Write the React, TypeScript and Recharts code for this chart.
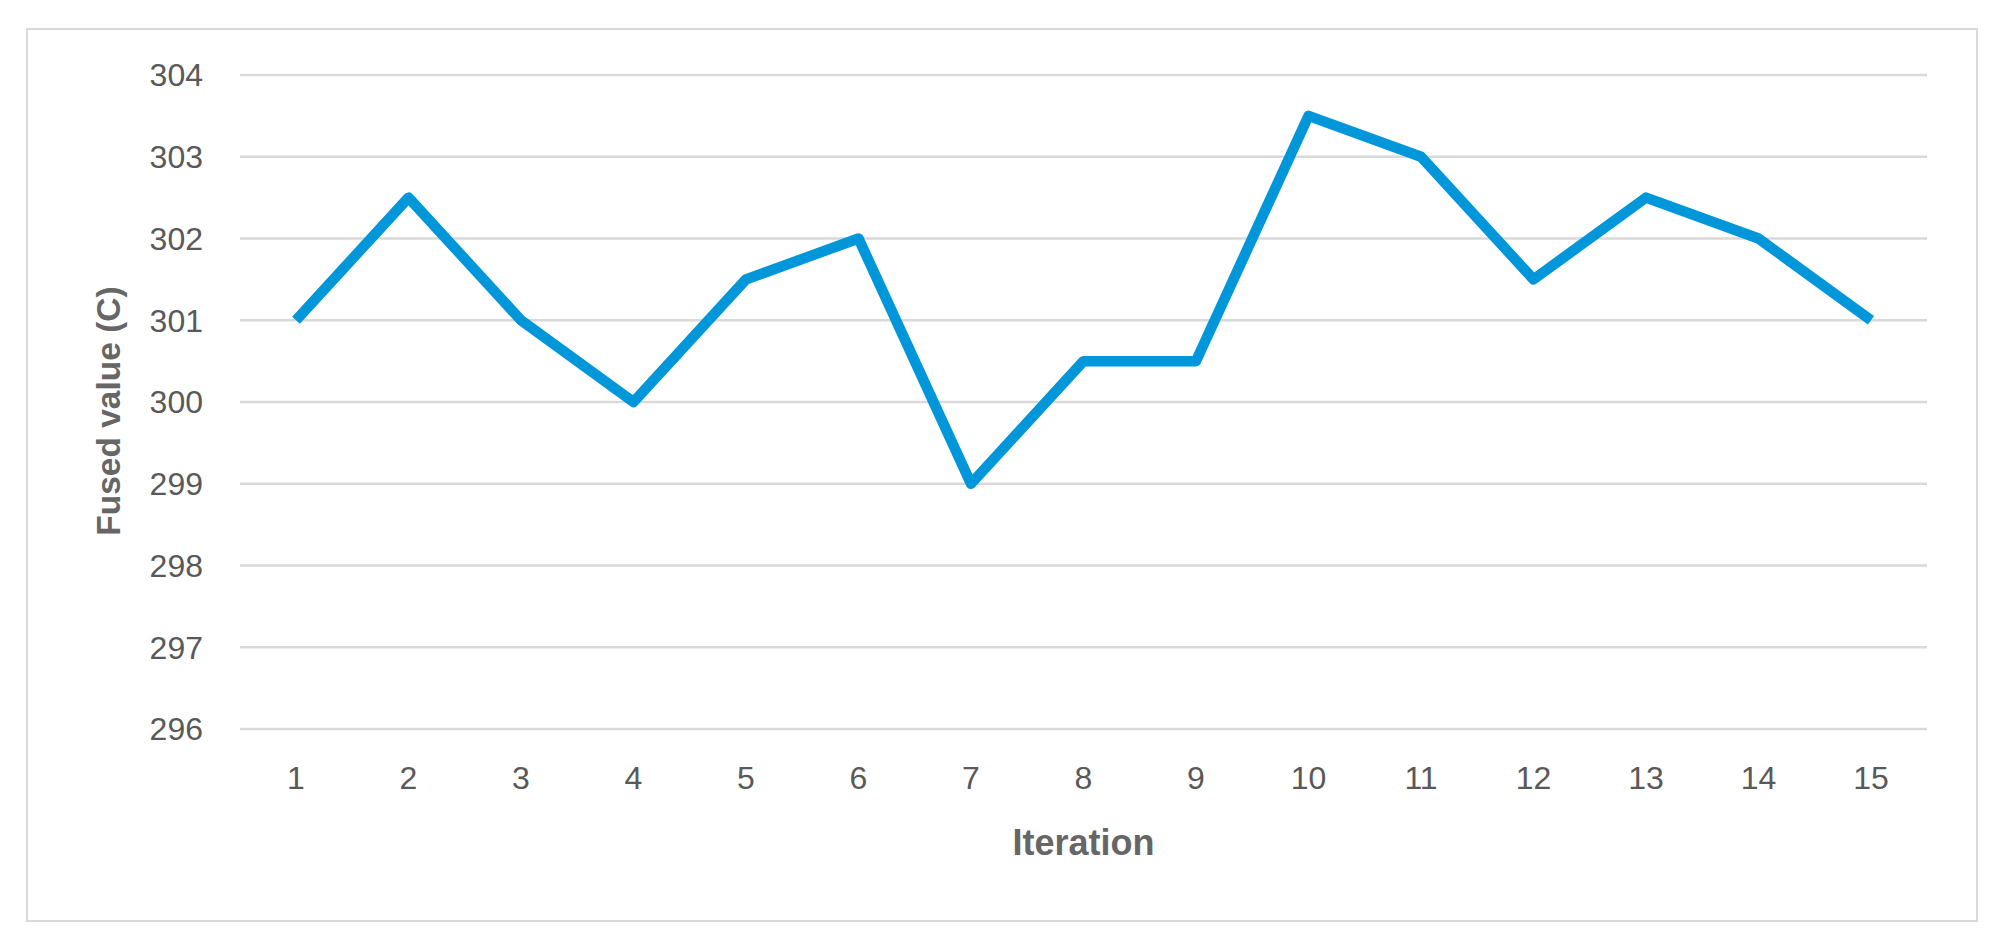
import { LineChart, Line, XAxis, YAxis, CartesianGrid, Label } from "recharts"

const iterations = ["1", "2", "3", "4", "5", "6", "7", "8", "9", "10", "11", "12", "13", "14", "15"]
const fusedValues = [301, 302.5, 301, 300, 301.5, 302, 299, 300.5, 300.5, 303.5, 303, 301.5, 302.5, 302, 301]
const yTicks = [296, 297, 298, 299, 300, 301, 302, 303, 304]

const chartData = iterations.map((it, i) => ({ iteration: it, value: fusedValues[i] }))

const FONT = "'Liberation Sans', Arial, sans-serif"
const TEXT_GRAY = "#595959"
const TITLE_GRAY = "#666666"

function YTitle(props: any) {
  const vb = props.viewBox || { x: 0, y: 0, width: 0, height: 0 }
  const cx = vb.x + 48
  // excel puts the title a little below the plot middle
  const cy = vb.y + vb.height / 2 + 9
  return (
    <text
      x={cx}
      y={cy}
      transform={`rotate(-90, ${cx}, ${cy})`}
      textAnchor="middle"
      dominantBaseline="central"
      fill={TITLE_GRAY}
      fontFamily={FONT}
      fontSize={33.5}
      fontWeight="bold"
    >
      Fused value (C)
    </text>
  )
}

export default function App() {
  return (
    <div style={{ position: "absolute", left: 0, top: 0, width: 2001, height: 944, background: "#fff" }}>
      <div
        style={{
          position: "absolute",
          left: 26,
          top: 28,
          width: 1948,
          height: 890,
          border: "2px solid #d9d9d9",
        }}
      />
      <div style={{ position: "absolute", left: 0, top: 0 }}>
        <LineChart
          width={2001}
          height={944}
          data={chartData}
          margin={{ top: 75, right: 74, bottom: 115, left: 60 }}
        >
          <CartesianGrid vertical={false} stroke="#d9d9d9" strokeWidth={2.5} />
          <XAxis
            dataKey="iteration"
            height={100}
            axisLine={false}
            tickLine={false}
            tickSize={0}
            tickMargin={37}
            interval={0}
            padding={{ left: 56, right: 56 }}
            tick={{ fill: TEXT_GRAY, fontSize: 32, fontFamily: FONT }}
          >
            <Label
              value="Iteration"
              position="bottom"
              offset={0}
              fill={TITLE_GRAY}
              fontSize={36}
              fontWeight="bold"
              fontFamily={FONT}
            />
          </XAxis>
          <YAxis
            width={180}
            domain={[296, 304]}
            ticks={yTicks}
            axisLine={false}
            tickLine={false}
            tickSize={0}
            tickMargin={37}
            tick={{ fill: TEXT_GRAY, fontSize: 32, fontFamily: FONT }}
          >
            <Label content={<YTitle />} />
          </YAxis>
          <Line
            type="linear"
            dataKey="value"
            stroke="#0097DA"
            strokeWidth={10.5}
            strokeLinejoin="round"
            dot={false}
            activeDot={false}
            isAnimationActive={false}
          />
        </LineChart>
      </div>
    </div>
  )
}
